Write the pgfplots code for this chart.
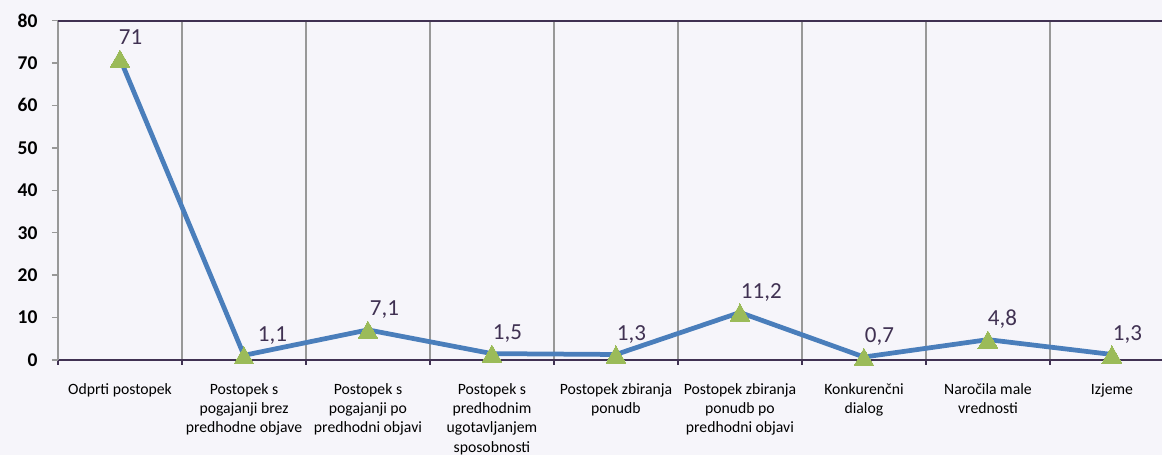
\documentclass[border=0pt]{standalone}
\usepackage{pgfplots}
\pgfplotsset{compat=1.18}
\usepackage{fontspec}
\setmainfont{Carlito}
\definecolor{bg}{RGB}{246,245,250}
\definecolor{lineblue}{RGB}{74,126,187}
\definecolor{mgreen}{RGB}{155,187,89}
\definecolor{dpurple}{RGB}{64,49,82}
\definecolor{gridgray}{RGB}{152,152,152}
\begin{document}
\begin{tikzpicture}[x=1pt,y=1pt]
\useasboundingbox (0,0) rectangle (1162,455);
\clip (0,0) rectangle (1162,455);
\fill[bg] (0,0) rectangle (1162,455);
\begin{axis}[
  at={(58pt,95pt)}, anchor=south west,
  scale only axis, width=1106pt, height=339.5pt,
  xmin=-0.5, xmax=8.42, ymin=0, ymax=80,
  axis x line*=bottom, axis y line*=left,
  x axis line style={draw=dpurple, line width=2pt},
  y axis line style={draw=gridgray, line width=1.75pt},
  xtick={0,...,8},
  xticklabels={Odprti postopek,
    {Postopek s\\pogajanji brez\\predhodne objave},
    {Postopek s\\pogajanji po\\predhodni objavi},
    {Postopek s\\predhodnim\\ugotavljanjem\\sposobnosti},
    {Postopek zbiranja\\ponudb},
    {Postopek zbiranja\\ponudb po\\predhodni objavi},
    {Konkurenčni\\dialog},
    {Naročila male\\vrednosti},
    Izjeme},
  major x tick style={draw=none},
  minor xtick={-0.5,0.5,...,8.5},
  minor x tick style={draw=dpurple, line width=1.5pt},
  minor x grid style={draw=gridgray, line width=1.75pt},
  xminorgrids=true,
  tick align=outside,
  minor tick length=5pt,
  major tick length=6pt,
  xticklabel style={align=center, font=\fontsize{15.7}{19.2}\selectfont, text=black, yshift=-14pt, anchor=north},
  ytick={0,10,...,80},
  y tick style={draw=gridgray, line width=1.5pt},
  yticklabel style={font=\bfseries\fontsize{19.5}{20}\selectfont, text=black, xshift=-11pt},
  /pgf/number format/assume math mode=true,
  axis on top=false,
  clip=false,
]
\draw[dpurple, line width=2pt] (rel axis cs:0,1) -- (rel axis cs:1.05,1);
\addplot[
  color=lineblue, line width=4.75pt, line join=round,
  mark=triangle*, mark size=11.5pt,
  mark options={fill=mgreen, draw=mgreen, line width=0pt, yshift=-2.9pt},
  point meta=explicit symbolic,
  visualization depends on={\thisrow{dx} \as \dx},
  nodes near coords,
  nodes near coords style={anchor=base west, inner sep=0pt, yshift=17pt, xshift=\dx,
     font=\fontsize{23}{24}\selectfont, text=dpurple},
] table[x=x, y=y, meta=lab] {
x y lab dx
0 71 71 -1
1 1.1 1,1 14
2 7.1 7,1 2
3 1.5 1,5 1
4 1.3 1,3 1
5 11.2 11,2 1
6 0.7 0,7 1
7 4.8 4,8 0
8 1.3 1,3 1
};
\end{axis}
\end{tikzpicture}
\end{document}
